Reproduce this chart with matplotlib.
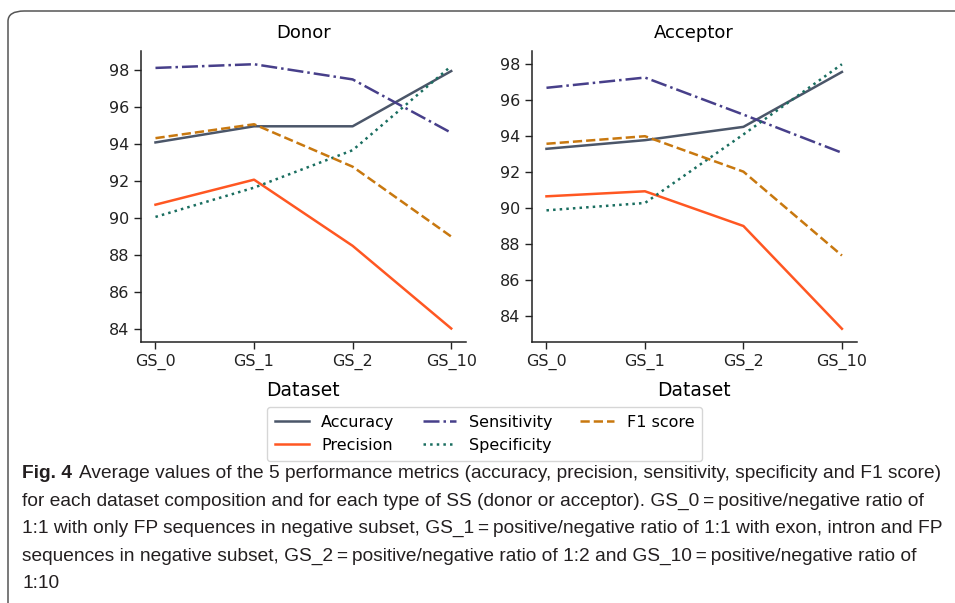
import matplotlib.pyplot as plt
from matplotlib.patches import FancyBboxPatch

# Dados
datasets = ['GS_0', 'GS_1', 'GS_2', 'GS_10']
metrics = ['Accuracy', 'Precision', 'Sensitivity', 'Specificity', 'F1 score']

donor_accuracy = [94.08, 94.95, 94.95, 97.93]
donor_precision = [90.72, 92.07, 88.5, 84.04]
donor_sensitivity = [98.1, 98.3, 97.48, 94.6]
donor_specificity = [90.06, 91.64, 93.66, 98.2]
donor_f1 = [94.31, 95.06, 92.77, 89.0]

acceptor_accuracy = [93.3, 93.78, 94.52, 97.57]
acceptor_precision = [90.66, 90.94, 89.01, 83.3]
acceptor_sensitivity = [96.69, 97.26, 95.2, 93.08]
acceptor_specificity = [89.88, 90.29, 94.1, 98.0]
acceptor_f1 = [93.58, 94.0, 92.03, 87.37]

caption_lines = [
    "Average values of the 5 performance metrics (accuracy, precision, sensitivity, specificity and F1 score)",
    "for each dataset composition and for each type of SS (donor or acceptor). GS_0\u2009=\u2009positive/negative ratio of",
    "1:1 with only FP sequences in negative subset, GS_1\u2009=\u2009positive/negative ratio of 1:1 with exon, intron and FP",
    "sequences in negative subset, GS_2\u2009=\u2009positive/negative ratio of 1:2 and GS_10\u2009=\u2009positive/negative ratio of",
    "1:10",
]

colors = ['#4b5669', '#ff5722', '#473f8a', '#1a6e60', '#c8780f']
styles = ['-', '-', '-.', ':', '--']

W, H = 955, 603
fig = plt.figure(figsize=(W / 100, H / 100), dpi=100)

# Moldura arredondada da figura
frame = FancyBboxPatch((8 / W, -40 / H), 990 / W, (H - 11 + 40) / H,
                       boxstyle='round,pad=0,rounding_size=0.017',
                       transform=fig.transFigure, fill=False,
                       edgecolor='#555555', linewidth=1.1)
fig.patches.append(frame)

panels = [
    ('Donor', [donor_accuracy, donor_precision, donor_sensitivity, donor_specificity, donor_f1],
     [140.7 / W, 1 - 341.7 / H, 325.3 / W, 290.7 / H]),
    ('Acceptor', [acceptor_accuracy, acceptor_precision, acceptor_sensitivity, acceptor_specificity, acceptor_f1],
     [531.7 / W, 1 - 342 / H, 325 / W, 291 / H]),
]

handles = []
for title, series, rect in panels:
    ax = fig.add_axes(rect)
    handles = []
    for values, name, c, ls in zip(series, metrics, colors, styles):
        line, = ax.plot(range(len(datasets)), values, color=c, linestyle=ls, linewidth=1.8, label=name)
        handles.append(line)
    ax.set_xticks(range(len(datasets)))
    ax.set_xticklabels(datasets)
    ax.set_yticks([84, 86, 88, 90, 92, 94, 96, 98])
    ax.tick_params(labelsize=11.5, length=5, width=1, colors='#222222')
    ax.set_title(title, fontsize=13, pad=9)
    ax.set_xlabel('Dataset', fontsize=13.5, labelpad=8)
    ax.spines['top'].set_visible(False)
    ax.spines['right'].set_visible(False)
    for s in ['left', 'bottom']:
        ax.spines[s].set_linewidth(1.1)
        ax.spines[s].set_color('#222222')

fig.legend(handles=handles, loc='upper left', bbox_to_anchor=(267 / W, 1 - 407 / H),
           ncol=3, fontsize=11.5, frameon=True, handlelength=2.1, handletextpad=0.8,
           columnspacing=1.75, borderpad=0.5, labelspacing=0.5, borderaxespad=0,
           fancybox=True)

# Legenda da figura (texto), ajustada à largura da primeira linha
cap_font = ['Liberation Sans', 'DejaVu Sans']
cap_size = 13
fig.canvas.draw()
renderer = fig.canvas.get_renderer()
ys = [473, 501, 528, 556, 583]
x0 = 22
x_end = 940

probe_b = fig.text(0, 0, 'Fig. 4', fontsize=cap_size, fontweight='bold', family=cap_font)
probe_t = fig.text(0, 0, caption_lines[0], fontsize=cap_size, family=cap_font)
total = probe_b.get_window_extent(renderer).width + probe_t.get_window_extent(renderer).width + 7
probe_b.remove()
probe_t.remove()
cap_size = cap_size * (x_end - x0) / total

bold = fig.text(x0 / W, 1 - ys[0] / H, 'Fig. 4', fontsize=cap_size, fontweight='bold',
                family=cap_font, va='center', ha='left', color='#231f20')
bw = bold.get_window_extent(renderer).width
fig.text((x0 + bw + 7) / W, 1 - ys[0] / H, caption_lines[0], fontsize=cap_size,
         family=cap_font, va='center', ha='left', color='#231f20')
for line, y in zip(caption_lines[1:], ys[1:]):
    fig.text(x0 / W, 1 - y / H, line, fontsize=cap_size, family=cap_font,
             va='center', ha='left', color='#231f20')

fig.savefig('out.png', dpi=100)
